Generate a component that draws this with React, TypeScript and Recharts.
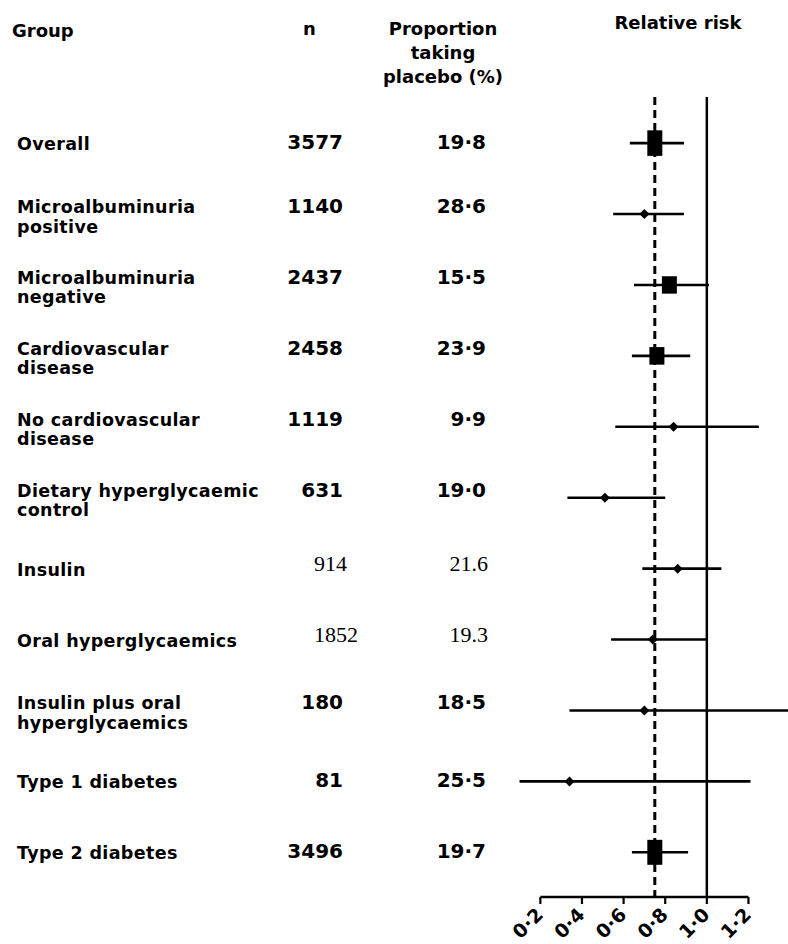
import React from "react";
import { ComposedChart, Scatter, XAxis, YAxis, ErrorBar, ReferenceLine } from "recharts";

// subgroup labels (one entry per printed line)
const groupLabels: string[][] = [
  ["Overall"],
  ["Microalbuminuria", "positive"],
  ["Microalbuminuria", "negative"],
  ["Cardiovascular", "disease"],
  ["No cardiovascular", "disease"],
  ["Dietary hyperglycaemic", "control"],
  ["Insulin"],
  ["Oral hyperglycaemics"],
  ["Insulin plus oral", "hyperglycaemics"],
  ["Type 1 diabetes"],
  ["Type 2 diabetes"],
];
const sampleSizes = ["3577", "1140", "2437", "2458", "1119", "631", "914", "1852", "180", "81", "3496"];
const placeboPct = ["19·8", "28·6", "15·5", "23·9", "9·9", "19·0", "21.6", "19.3", "18·5", "25·5", "19·7"];

// relative risk with 95% CI
const relativeRisk = [0.75, 0.7, 0.82, 0.76, 0.84, 0.51, 0.86, 0.74, 0.7, 0.34, 0.75];
const ciLower = [0.63, 0.55, 0.65, 0.64, 0.56, 0.33, 0.69, 0.54, 0.34, 0.1, 0.64];
const ciUpper = [0.89, 0.89, 1.01, 0.92, 1.25, 0.8, 1.07, 1.0, 1.39, 1.21, 0.91];
const overallRisk = 0.75;
const riskTicks = [0.2, 0.4, 0.6, 0.8, 1.0, 1.2];

const rows = relativeRisk.map((rr, i) => ({
  row: i,
  rr,
  ci: [rr - ciLower[i], ciUpper[i] - rr],
  n: Number(sampleSizes[i]),
}));
const rowTicks = rows.map((r) => r.row);

const FONT = "'DejaVu Sans', sans-serif";
const SERIF = "'Liberation Serif', 'Times New Roman', serif";
// these two rows were typeset in a roman face in the source table
const romanRows = new Set([6, 7]);

const Y_TOP = -0.65;
const Y_AXIS = 10.63;
const X_DOMAIN: [number, number] = [-0.09, 1.39];

function RowLabel(props: any) {
  const { y, payload } = props;
  const i = payload.value as number;
  const lines = groupLabels[i];
  if (!lines) return null;
  const two = lines.length > 1;
  const base = two ? y - 1 : y + 7;
  const roman = romanRows.has(i);
  return (
    <g fill="#000">
      {lines.map((line, k) => (
        <text
          key={k}
          x={17}
          y={base + k * 19.5}
          fontFamily={FONT}
          fontSize={17.5}
          fontWeight={700}
          letterSpacing={0.35}
        >
          {line}
        </text>
      ))}
      {roman ? (
        <>
          <text x={314} y={y + 2} fontFamily={SERIF} fontSize={22}>
            {sampleSizes[i]}
          </text>
          <text x={488} y={y + 2} textAnchor="end" fontFamily={SERIF} fontSize={22}>
            {placeboPct[i]}
          </text>
        </>
      ) : (
        <>
          <text x={343} y={two ? y - 1 : y + 6} textAnchor="end" fontFamily={FONT} fontSize={20} fontWeight={700}>
            {sampleSizes[i]}
          </text>
          <text x={486} y={two ? y - 1 : y + 6} textAnchor="end" fontFamily={FONT} fontSize={20} fontWeight={700}>
            {placeboPct[i]}
          </text>
        </>
      )}
    </g>
  );
}

function RiskTick(props: any) {
  const { x, y, payload } = props;
  const label = Number(payload.value).toFixed(1).replace(".", "·");
  const tx = x + 4;
  const ty = y + 19;
  return (
    <g>
      <line x1={x} x2={x} y1={y} y2={y + 7} stroke="#000" strokeWidth={2.2} />
      <text
        x={tx}
        y={ty}
        transform={`rotate(-45 ${tx} ${ty})`}
        textAnchor="end"
        fontFamily={FONT}
        fontSize={19}
        fontWeight={700}
        fill="#000"
      >
        {label}
      </text>
    </g>
  );
}

function renderMarker(props: any) {
  const { cx, cy, payload } = props;
  if (payload.n > 2000) {
    const h = payload.n / 140;
    return <rect x={cx - 7.5} y={cy - h / 2} width={15} height={h} fill="#000" />;
  }
  const r = 5;
  return (
    <path
      d={`M${cx - r},${cy} L${cx},${cy - r} L${cx + r},${cy} L${cx},${cy + r} Z`}
      fill="#000"
    />
  );
}

export default function App() {
  return (
    <div style={{ position: "absolute", left: 0, top: 0, width: 788, height: 944, background: "#fff" }}>
      <svg width={788} height={100} style={{ position: "absolute", left: 0, top: 0 }}>
        <g fontFamily={FONT} fontWeight={700} fontSize={18} fill="#000">
          <text x={12} y={37}>Group</text>
          <text x={303} y={35}>n</text>
          <text x={443} y={35} textAnchor="middle">Proportion</text>
          <text x={443} y={59} textAnchor="middle">taking</text>
          <text x={443} y={83} textAnchor="middle">placebo (%)</text>
          <text x={678} y={29} textAnchor="middle">Relative risk</text>
        </g>
      </svg>
      <div style={{ position: "absolute", left: 0, top: 0 }}>
        <ComposedChart width={788} height={944} data={rows} margin={{ top: 97, right: 0, bottom: 0, left: 0 }}>
          <XAxis
            type="number"
            dataKey="rr"
            domain={X_DOMAIN}
            ticks={riskTicks}
            interval={0}
            axisLine={false}
            tickLine={false}
            tickSize={0}
            tickMargin={0}
            height={47}
            tick={<RiskTick />}
          />
          <YAxis
            type="number"
            dataKey="row"
            domain={[Y_TOP, Y_AXIS]}
            reversed
            ticks={rowTicks}
            interval={0}
            axisLine={false}
            tickLine={false}
            tickSize={0}
            tickMargin={0}
            width={480}
            tick={<RowLabel />}
          />
          <ReferenceLine
            segment={[{ x: 0.2, y: Y_AXIS }, { x: 1.2, y: Y_AXIS }]}
            stroke="#000"
            strokeWidth={2.5}
          />
          <ReferenceLine
            segment={[{ x: 1, y: Y_TOP }, { x: 1, y: Y_AXIS }]}
            stroke="#000"
            strokeWidth={2.5}
          />
          <ReferenceLine
            segment={[{ x: overallRisk, y: Y_TOP }, { x: overallRisk, y: Y_AXIS }]}
            stroke="#000"
            strokeWidth={3}
            strokeDasharray="8 5"
          />
          <Scatter data={rows} dataKey="rr" shape={renderMarker} isAnimationActive={false}>
            <ErrorBar dataKey="ci" direction="x" width={0} stroke="#000" strokeWidth={2.6} />
          </Scatter>
        </ComposedChart>
      </div>
    </div>
  );
}
